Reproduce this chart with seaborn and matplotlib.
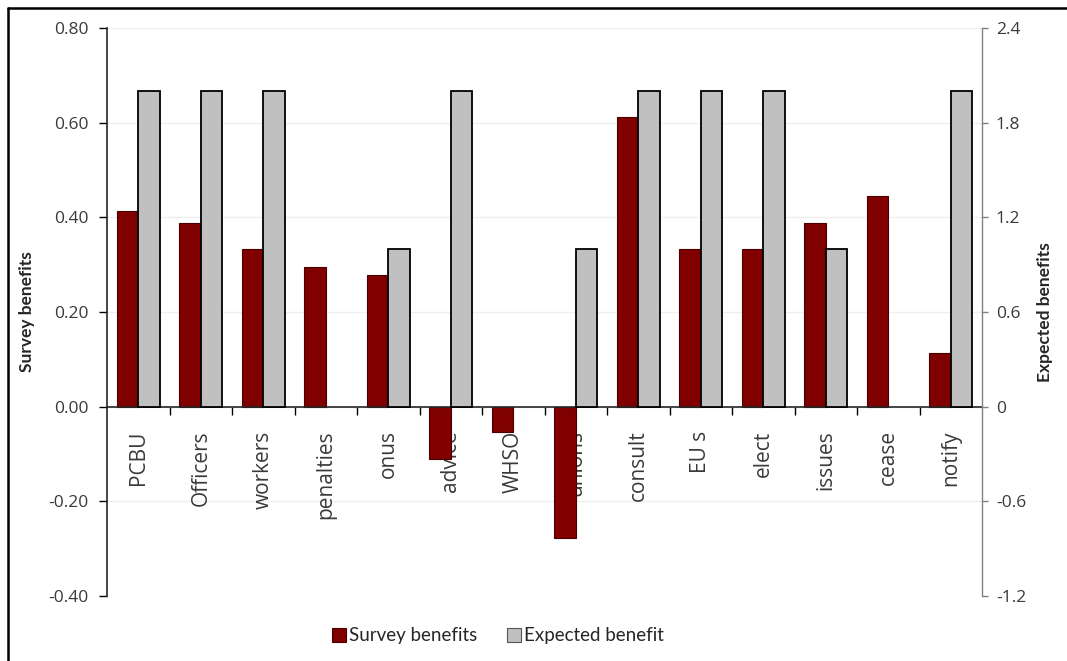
import matplotlib
matplotlib.use("Agg")
import matplotlib.pyplot as plt
from matplotlib.lines import Line2D
from matplotlib.patches import Patch
from matplotlib.ticker import FuncFormatter, FixedLocator
import seaborn as sns
import pandas as pd

categories = ["PCBU", "Officers", "workers", "penalties", "onus", "advice", "WHSO",
              "unions", "consult", "EU s", "elect", "issues", "cease", "notify"]
survey_benefits = [0.413, 0.389, 0.334, 0.296, 0.279, -0.110, -0.053,
                   -0.277, 0.612, 0.334, 0.334, 0.389, 0.445, 0.114]
# None = no expected benefit recorded for that provision
expected_benefit = [2, 2, 2, None, 1, 2, None, 1, 2, 2, 2, 1, None, 2]
left_ticks = [-0.40, -0.20, 0.00, 0.20, 0.40, 0.60, 0.80]
right_ticks = [-1.2, -0.6, 0, 0.6, 1.2, 1.8, 2.4]
series = ["Survey benefits", "Expected benefit"]

RED = "#800000"
GREY = "#c0c0c0"
TXT = "#3a3a3a"

sns.set_style("white")
plt.rcParams["font.family"] = ["Open Sans", "DejaVu Sans"]
plt.rcParams["axes.unicode_minus"] = False

df_s = pd.DataFrame({"category": categories, "value": survey_benefits, "series": series[0]})
df_e = pd.DataFrame({"category": categories, "value": expected_benefit, "series": series[1]}).dropna()
palette = {series[0]: RED, series[1]: GREY}

fig = plt.figure(figsize=(10.67, 6.61), dpi=100)
ax = fig.add_axes([107 / 1067, 1 - 596 / 661, (982 - 107) / 1067, (596 - 28) / 661])

for y in left_ticks:
    ax.axhline(y, color="#efefef", lw=1, zorder=0)

sns.barplot(data=df_s, x="category", y="value", hue="series", hue_order=series,
            order=categories, palette=palette, saturation=1, width=0.69, gap=0,
            dodge=True, edgecolor="#4a0000", linewidth=0.8, legend=False, ax=ax,
            zorder=2)

ax2 = ax.twinx()
sns.barplot(data=df_e, x="category", y="value", hue="series", hue_order=series,
            order=categories, palette=palette, saturation=1, width=0.69, gap=0,
            dodge=True, edgecolor="black", linewidth=1.3, legend=False, ax=ax2,
            zorder=2)

ax.set_xlim(-0.5, len(categories) - 0.5)
ax.set_ylim(-0.40, 0.80)
ax2.set_ylim(-1.2, 2.4)

# left axis
ax.set_yticks(left_ticks)
ax.yaxis.set_major_formatter(FuncFormatter(lambda v, p: f"{v:.2f}"))
ax.tick_params(axis="y", direction="out", length=6, width=1, color="black",
               labelsize=12.5, labelcolor=TXT, pad=7, left=True)
ax.set_ylabel("Survey benefits", fontsize=12.5, fontweight="bold", family="Lato",
              labelpad=10)

# category axis sits on the zero line
ax.spines["bottom"].set_position(("data", 0))
ax.spines["bottom"].set_linewidth(1.2)
ax.spines["left"].set_linewidth(1.2)
ax.spines["top"].set_visible(False)
ax.spines["right"].set_visible(False)
ax.set_xticks(range(len(categories)))
ax.set_xticklabels(categories, rotation=90, fontsize=15, color=TXT)
ax.xaxis.set_minor_locator(FixedLocator([i + 0.5 for i in range(len(categories) - 1)]))
ax.tick_params(axis="x", which="major", length=0, pad=17, bottom=True)
ax.tick_params(axis="x", which="minor", length=6, width=1, color="black",
               direction="out", bottom=True)
ax.set_xlabel("")

# right axis
ax2.set_yticks(right_ticks)
ax2.yaxis.set_major_formatter(FuncFormatter(lambda v, p: f"{v:g}"))
ax2.tick_params(axis="y", direction="out", length=4, width=1, color="#808080",
                labelsize=12.5, labelcolor=TXT, pad=6, right=True)
ax2.set_ylabel("Expected benefits", fontsize=12.5, fontweight="bold", family="Lato",
               labelpad=8)
for side in ["top", "left", "bottom"]:
    ax2.spines[side].set_visible(False)
ax2.spines["right"].set_color("#808080")
ax2.spines["right"].set_linewidth(1)

handles = [Patch(facecolor=RED, edgecolor="#4a0000", lw=0.8),
           Patch(facecolor=GREY, edgecolor="#555555", lw=0.8)]
fig.legend(handles, series, loc="center", bbox_to_anchor=(498 / 1067, 1 - 636 / 661),
           ncol=2, frameon=False, handlelength=0.75, handleheight=0.75,
           handletextpad=0.15, columnspacing=1.6,
           prop={"family": "Lato", "size": 13.5})

# outer frame
fig.add_artist(Line2D([8 / 1067, 8 / 1067], [0, 1 - 8 / 661], transform=fig.transFigure,
                      color="black", lw=1.8))
fig.add_artist(Line2D([8 / 1067, 1], [1 - 8 / 661, 1 - 8 / 661], transform=fig.transFigure,
                      color="black", lw=1.8))

fig.savefig("out.png", dpi=100, facecolor="white")
